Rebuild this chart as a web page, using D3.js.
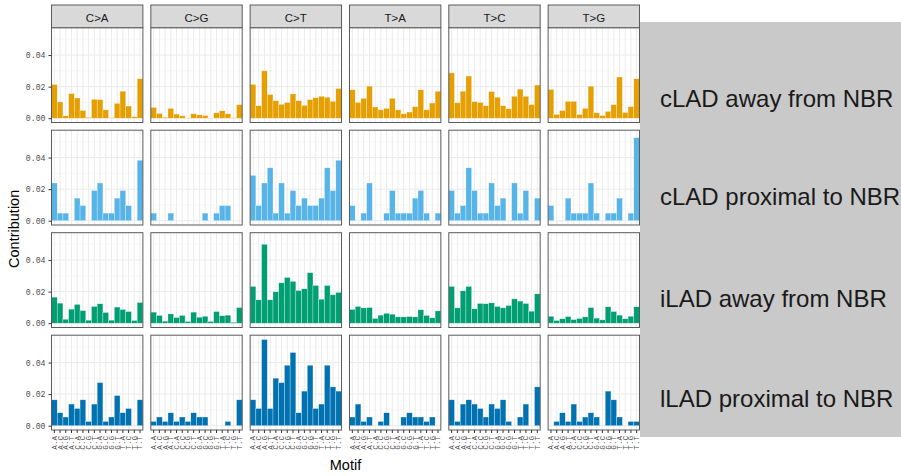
<!DOCTYPE html>
<html>
<head>
<meta charset="utf-8">
<script src="https://cdn.jsdelivr.net/npm/d3@7"></script>
<style>
  body { margin: 0; background: #fff; }
  svg { display: block; }
</style>
</head>
<body>
<svg id="chart" width="901" height="476"></svg>
<script>
// trinucleotide contexts (5' base . 3' base)
const contexts = ["A.A","A.C","A.G","A.T","C.A","C.C","C.G","C.T",
                  "G.A","G.C","G.G","G.T","T.A","T.C","T.G","T.T"];
const substitutions = ["C>A","C>G","C>T","T>A","T>C","T>G"];
const groups = ["cLAD away from NBR","cLAD proximal to NBR","iLAD away from NBR","lLAD proximal to NBR"];
const groupColors = ["#E69F00","#56B4E9","#009E73","#0072B2"];

// one line per substitution, 16 contexts each
const cladAway = [
  0.0214,0.0103,0.0015,0.0156,0.0128,0.0049,0.0005,0.0120,0.0118,0.0053,0.0003,0.0094,0.0171,0.0077,0.0009,0.0250,
  0.0068,0.0030,0.0006,0.0062,0.0026,0.0015,0.0002,0.0028,0.0021,0.0017,0.0001,0.0034,0.0047,0.0028,0.0003,0.0086,
  0.0214,0.0079,0.0300,0.0150,0.0111,0.0088,0.0100,0.0154,0.0111,0.0081,0.0118,0.0130,0.0139,0.0133,0.0107,0.0188,
  0.0180,0.0100,0.0126,0.0203,0.0071,0.0053,0.0062,0.0126,0.0053,0.0028,0.0039,0.0073,0.0180,0.0053,0.0096,0.0171,
  0.0287,0.0098,0.0171,0.0267,0.0105,0.0100,0.0079,0.0169,0.0133,0.0079,0.0060,0.0139,0.0184,0.0139,0.0086,0.0210,
  0.0182,0.0024,0.0049,0.0107,0.0107,0.0024,0.0062,0.0203,0.0034,0.0017,0.0043,0.0086,0.0261,0.0036,0.0073,0.0250
];
const cladProximal = [
  0.0239,0.0048,0.0048,0,0.0143,0.0096,0,0.0191,0.0239,0.0048,0.0048,0.0143,0.0191,0.0096,0,0.0383,
  0.0048,0,0,0.0048,0,0,0,0,0,0.0048,0,0.0048,0.0096,0.0096,0,0,
  0.0287,0.0096,0.0239,0.0335,0.0048,0.0239,0.0048,0.0191,0.0096,0.0143,0.0096,0.0096,0.0143,0.0335,0.0191,0.0383,
  0.0096,0,0.0048,0.0239,0,0,0.0048,0.0191,0.0048,0.0048,0.0048,0.0143,0.0191,0.0048,0,0.0048,
  0.0191,0.0048,0.0096,0.0335,0.0191,0.0048,0.0048,0.0239,0.0096,0.0143,0,0.0239,0.0048,0.0191,0,0.0143,
  0.0096,0,0,0.0143,0.0048,0.0048,0.0048,0.0239,0.0048,0,0.0048,0.0048,0.0143,0,0.0048,0.0526
];
const iladAway = [
  0.0165,0.0127,0.0025,0.0089,0.0119,0.0080,0.0019,0.0106,0.0123,0.0068,0.0019,0.0102,0.0087,0.0074,0.0017,0.0131,
  0.0070,0.0049,0.0013,0.0059,0.0036,0.0049,0.0011,0.0070,0.0038,0.0044,0.0011,0.0074,0.0047,0.0051,0.0006,0.0099,
  0.0233,0.0148,0.0500,0.0148,0.0199,0.0256,0.0290,0.0265,0.0207,0.0218,0.0320,0.0239,0.0152,0.0239,0.0180,0.0195,
  0.0087,0.0106,0.0097,0.0099,0.0030,0.0051,0.0063,0.0057,0.0040,0.0040,0.0042,0.0040,0.0085,0.0049,0.0034,0.0078,
  0.0233,0.0097,0.0205,0.0233,0.0091,0.0125,0.0123,0.0129,0.0106,0.0097,0.0112,0.0154,0.0140,0.0125,0.0076,0.0186,
  0.0044,0.0017,0.0028,0.0042,0.0023,0.0030,0.0040,0.0099,0.0032,0.0021,0.0104,0.0074,0.0051,0.0028,0.0044,0.0104
];
const iladProximal = [
  0.0164,0.0082,0.0055,0.0137,0.0109,0.0164,0.0027,0.0137,0.0273,0.0027,0.0055,0.0191,0.0082,0.0109,0,0.0164,
  0.0027,0.0055,0.0027,0.0082,0.0027,0.0055,0.0027,0.0082,0.0055,0.0055,0,0,0,0.0027,0,0.0164,
  0.0164,0.0109,0.0546,0.0109,0.0301,0.0273,0.0383,0.0464,0.0082,0.0219,0.0383,0.0109,0.0137,0.0383,0.0246,0.0219,
  0.0055,0.0137,0.0027,0.0055,0,0.0027,0.0082,0,0,0.0055,0.0082,0.0055,0.0055,0.0027,0.0055,0,
  0.0164,0.0027,0.0137,0.0164,0.0137,0.0109,0.0055,0.0137,0.0109,0.0164,0.0027,0,0.0055,0.0137,0,0.0246,
  0,0.0027,0.0082,0.0027,0.0137,0.0027,0.0055,0.0082,0.0055,0,0.0219,0.0164,0.0055,0,0.0027,0.0027
];
const groupValues = [cladAway, cladProximal, iladAway, iladProximal];

const svg = d3.select("#chart");
const sans = "'Liberation Sans', Arial, sans-serif";
const mono = "'Liberation Mono', 'Courier New', monospace";

// facet layout
const col = d3.scaleBand().domain(substitutions).range([51.5, 639.5]).paddingInner(0.08);
const row = d3.scaleBand().domain(groups).range([27.7, 430]).paddingInner(0.075);
const x = d3.scaleBand().domain(contexts).range([0, col.bandwidth()]);
const yMax = d3.max(groupValues, g => d3.max(g));
const y = d3.scaleLinear().domain([-0.05 * yMax, 1.05 * yMax]).range([row.bandwidth(), 0]);

const cells = [];
groups.forEach((g, gi) => substitutions.forEach((s, si) => cells.push({g, gi, s, si})));

const panel = svg.selectAll("g.panel")
  .data(cells)
  .join("g")
  .attr("class", "panel")
  .attr("transform", d => `translate(${col(d.s)},${row(d.g)})`);

panel.append("rect")
  .attr("width", col.bandwidth()).attr("height", row.bandwidth())
  .attr("fill", "#fff");

// grid
panel.selectAll("line.vgrid")
  .data(contexts)
  .join("line")
  .attr("x1", c => x(c) + x.bandwidth() / 2).attr("x2", c => x(c) + x.bandwidth() / 2)
  .attr("y1", 0).attr("y2", row.bandwidth())
  .attr("stroke", "#EBEBEB").attr("stroke-width", 1);
panel.selectAll("line.hmin")
  .data([0.01, 0.03, 0.05])
  .join("line")
  .attr("x1", 0).attr("x2", col.bandwidth())
  .attr("y1", v => y(v)).attr("y2", v => y(v))
  .attr("stroke", "#F2F2F2").attr("stroke-width", 0.6);
panel.selectAll("line.hmaj")
  .data([0, 0.02, 0.04])
  .join("line")
  .attr("x1", 0).attr("x2", col.bandwidth())
  .attr("y1", v => y(v)).attr("y2", v => y(v))
  .attr("stroke", "#EBEBEB").attr("stroke-width", 1);

// bars
panel.selectAll("rect.bar")
  .data(d => contexts.map((c, i) => ({c, v: groupValues[d.gi][d.si * 16 + i], color: groupColors[d.gi]})))
  .join("rect")
  .attr("class", "bar")
  .attr("x", d => x(d.c))
  .attr("width", x.bandwidth())
  .attr("y", d => y(d.v))
  .attr("height", d => y(0) - y(d.v))
  .attr("fill", d => d.color)
  .attr("stroke", "#fff").attr("stroke-width", 0.5).attr("stroke-opacity", 0.6);

panel.append("rect")
  .attr("width", col.bandwidth()).attr("height", row.bandwidth())
  .attr("fill", "none").attr("stroke", "#5a5a5a").attr("stroke-width", 1);

// strips on top
const strip = svg.selectAll("g.strip")
  .data(substitutions)
  .join("g")
  .attr("transform", s => `translate(${col(s)},5)`);
strip.append("rect")
  .attr("width", col.bandwidth()).attr("height", 22.7)
  .attr("fill", "#D9D9D9").attr("stroke", "#5a5a5a").attr("stroke-width", 1);
strip.append("text")
  .attr("x", col.bandwidth() / 2).attr("y", 16.6)
  .attr("text-anchor", "middle")
  .style("font-family", sans).style("font-size", "11.5px").attr("fill", "#1A1A1A")
  .text(s => s);

// y axes on first column
groups.forEach(g => {
  const ax = svg.append("g")
    .attr("transform", `translate(${col(substitutions[0])},${row(g)})`)
    .call(d3.axisLeft(y).tickValues([0, 0.02, 0.04]).tickFormat(d3.format(".2f")).tickSize(3).tickPadding(3));
  ax.select(".domain").remove();
  ax.selectAll("line").attr("stroke", "#333");
  ax.selectAll("text").style("font-family", mono).style("font-size", "8.2px").attr("fill", "#4D4D4D");
});

// x axes on bottom row
substitutions.forEach(s => {
  const ax = svg.append("g")
    .attr("transform", `translate(${col(s)},${row(groups[3]) + row.bandwidth()})`)
    .call(d3.axisBottom(x).tickSize(3));
  ax.select(".domain").remove();
  ax.selectAll("line").attr("stroke", "#333");
  ax.selectAll("text")
    .attr("transform", "rotate(-90)")
    .attr("x", -6).attr("y", 0).attr("dy", "0.32em")
    .attr("text-anchor", "end")
    .style("font-family", mono).style("font-size", "7.6px").attr("fill", "#4D4D4D");
});

// axis titles
svg.append("text")
  .attr("transform", `translate(19,${(27.7 + 430) / 2}) rotate(-90)`)
  .attr("text-anchor", "middle")
  .style("font-family", sans).style("font-size", "14.5px").attr("fill", "#000")
  .text("Contribution");
svg.append("text")
  .attr("x", (51.5 + 639.5) / 2).attr("y", 470)
  .attr("text-anchor", "middle")
  .style("font-family", sans).style("font-size", "14.5px").attr("fill", "#000")
  .text("Motif");

// grey label box over the row strips
svg.append("rect")
  .attr("x", 640).attr("y", 22).attr("width", 261).attr("height", 415)
  .attr("fill", "#C9C9C9");
const labelY = [107, 205, 307, 407];
svg.selectAll("text.rowlab")
  .data(groups)
  .join("text")
  .attr("class", "rowlab")
  .attr("x", 660).attr("y", (g, i) => labelY[i])
  .style("font-family", sans).style("font-size", "24px").attr("fill", "#1A1A1A")
  .text(g => g);
</script>
</body>
</html>
